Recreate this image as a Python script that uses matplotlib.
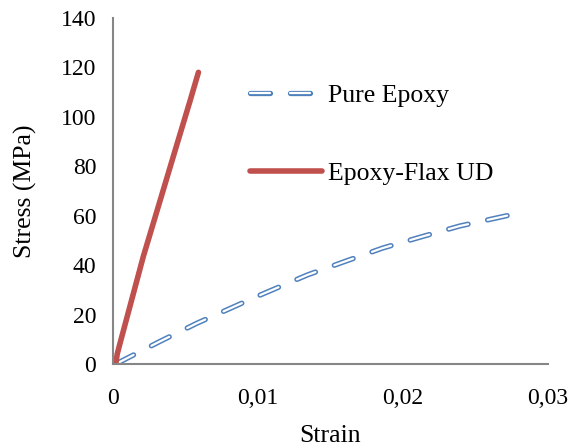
import matplotlib
matplotlib.use('Agg')
import matplotlib.pyplot as plt

# stress-strain curves
epoxy_strain = [0.0002, 0.0032, 0.0058, 0.0100, 0.0134, 0.0161, 0.0186, 0.0213, 0.0239, 0.0274]
epoxy_stress = [0, 9, 16.5, 27.5, 36, 41.7, 46.9, 51.5, 55.8, 60.3]
flax_strain = [0.0002, 0.0003, 0.0005, 0.0013, 0.0021, 0.0032, 0.0044, 0.0053, 0.0059]
flax_stress = [0, 4, 8.5, 26, 43.5, 65, 88.5, 106, 118]
xticks = [0, 0.01, 0.02, 0.03]
xticklabels = ['0', '0,01', '0,02', '0,03']
yticks = [0, 20, 40, 60, 80, 100, 120, 140]

plt.rcParams['font.family'] = ['Liberation Serif', 'DejaVu Serif']
plt.rcParams['lines.scale_dashes'] = False

blue = '#4F81BD'
red = '#C0504D'
grey = '#868686'

fig = plt.figure(figsize=(5.7, 4.48), dpi=100)
ax = fig.add_axes([0.198, 0.1875, 0.7634, 0.7725])

# hollow dashes: thick blue dash with a thin white dash on top, same pattern
px = 0.72
dash = (0, (20 * px, 20 * px))
b1, = ax.plot(epoxy_strain, epoxy_stress, color=blue, lw=3.8,
              linestyle=dash, dash_capstyle='round')
b2, = ax.plot(epoxy_strain, epoxy_stress, color='white', lw=1.6,
              linestyle=dash, dash_capstyle='round')
r1, = ax.plot(flax_strain, flax_stress, color=red, lw=4.0, solid_capstyle='round')

ax.set_xlim(0, 0.03)
ax.set_ylim(0, 140)
ax.set_xticks(xticks)
ax.set_xticklabels(xticklabels)
ax.set_yticks(yticks)
ax.tick_params(length=0, labelsize=17)
ax.tick_params(axis='y', pad=12)
ax.tick_params(axis='x', pad=17)

for s in ['top', 'right']:
    ax.spines[s].set_visible(False)
for s in ['left', 'bottom']:
    ax.spines[s].set_color(grey)
    ax.spines[s].set_linewidth(1.5)

ax.set_xlabel('Strain', fontsize=18.5, labelpad=12)
ax.set_ylabel('Stress (MPa)', fontsize=18.5, labelpad=17)

ax.legend([(b1, b2), r1], ['Pure Epoxy', 'Epoxy-Flax UD'], loc='upper left',
          bbox_to_anchor=(0.315, 0.81), frameon=False, fontsize=18.5,
          handlelength=2.8, handletextpad=0.25, labelspacing=2.15,
          borderaxespad=0, borderpad=0)

fig.savefig('out.png', dpi=100)
